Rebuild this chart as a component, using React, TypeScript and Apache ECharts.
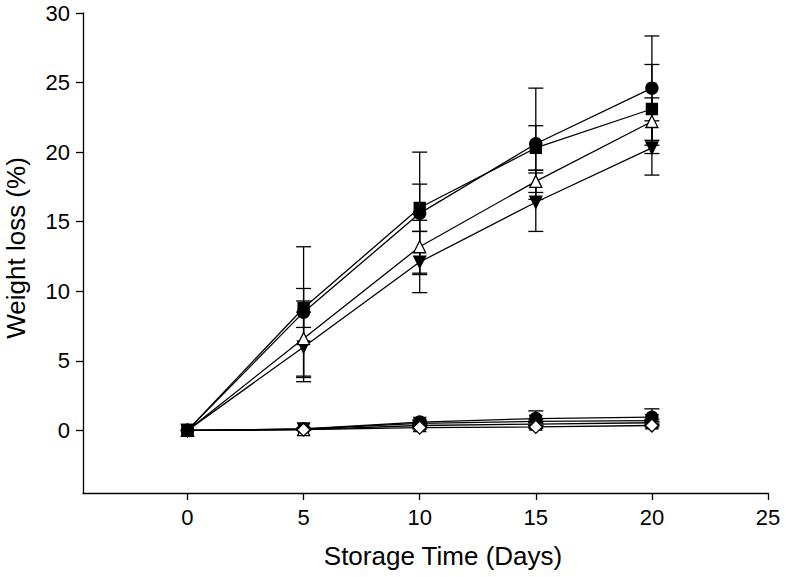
import React, { useEffect, useRef } from "react";
import * as echarts from "echarts";

const days = [0, 5, 10, 15, 20];
const tickValues = [0, 5, 10, 15, 20, 25];
const yTickValues = [0, 5, 10, 15, 20, 25, 30];

// Treated groups
const circleVals = [0, 8.5, 15.6, 20.6, 24.6];
const circleErr = [0, 4.7, 4.4, 4.0, 3.75];
const squareVals = [0, 8.8, 16.0, 20.3, 23.1];
const squareErr = [0, 1.4, 1.7, 1.6, 3.2];
const triVals = [0, 6.6, 13.2, 17.9, 22.2];
const triErr = [0, 2.7, 1.9, 0.8, 1.7];
const invVals = [0, 6.0, 12.1, 16.4, 20.3];
const invErr = [0, 2.5, 2.2, 2.1, 1.95];

// Control groups
const ctrlCircleVals = [0, 0.1, 0.6, 0.85, 0.95];
const ctrlCircleErr = [0, 0.05, 0.15, 0.55, 0.6];
const ctrlInvVals = [0, 0.1, 0.5, 0.65, 0.7];
const ctrlInvErr = [0, 0.05, 0.1, 0.1, 0.1];
const ctrlTriVals = [0, 0.05, 0.35, 0.45, 0.55];
const ctrlTriErr = [0, 0.05, 0.1, 0.1, 0.1];
const ctrlDiaVals = [0, 0.05, 0.2, 0.25, 0.35];
const ctrlDiaErr = [0, 0.05, 0.1, 0.1, 0.1];

const FONT = "'Liberation Sans', Arial, Helvetica, sans-serif";
const LW = 1.3;

type Spec = {
  name: string;
  vals: number[];
  err: number[];
  symbol: string;
  size: number;
  rotate?: number;
  filled: boolean;
};

const specs: Spec[] = [
  { name: "ctrl-circle", vals: ctrlCircleVals, err: ctrlCircleErr, symbol: "circle", size: 12, filled: true },
  { name: "ctrl-inv", vals: ctrlInvVals, err: ctrlInvErr, symbol: "triangle", size: 12, rotate: 180, filled: true },
  { name: "ctrl-tri", vals: ctrlTriVals, err: ctrlTriErr, symbol: "triangle", size: 12, filled: false },
  { name: "ctrl-dia", vals: ctrlDiaVals, err: ctrlDiaErr, symbol: "diamond", size: 13, filled: false },
  { name: "inv", vals: invVals, err: invErr, symbol: "triangle", size: 12, rotate: 180, filled: true },
  { name: "tri", vals: triVals, err: triErr, symbol: "triangle", size: 12, filled: false },
  { name: "square", vals: squareVals, err: squareErr, symbol: "rect", size: 11, filled: true },
  { name: "circle", vals: circleVals, err: circleErr, symbol: "circle", size: 12, filled: true },
];

function errorSeries(s: Spec) {
  const data = days
    .map((d, i) => [d, s.vals[i] - s.err[i], s.vals[i] + s.err[i], s.err[i]])
    .filter((r) => r[3] > 0);
  return {
    type: "custom",
    name: s.name + "-err",
    data,
    z: 1,
    encode: { x: 0, y: [1, 2] },
    renderItem: (_params: any, api: any) => {
      const x = api.value(0);
      const lo = api.value(1);
      const hi = api.value(2);
      const p1 = api.coord([x, hi]);
      const p2 = api.coord([x, lo]);
      const w = 7.5;
      const style = { stroke: "#000", lineWidth: LW };
      return {
        type: "group",
        children: [
          { type: "line", shape: { x1: p1[0], y1: p1[1], x2: p2[0], y2: p2[1] }, style },
          { type: "line", shape: { x1: p1[0] - w, y1: p1[1], x2: p1[0] + w, y2: p1[1] }, style },
          { type: "line", shape: { x1: p2[0] - w, y1: p2[1], x2: p2[0] + w, y2: p2[1] }, style },
        ],
      };
    },
  };
}

function lineSeries(s: Spec) {
  return {
    type: "line",
    name: s.name,
    data: days.map((d, i) => [d, s.vals[i]]),
    z: 3,
    symbol: s.symbol,
    symbolSize: s.size,
    symbolRotate: s.rotate || 0,
    showAllSymbol: true,
    lineStyle: { color: "#000", width: LW },
    itemStyle: {
      color: s.filled ? "#000" : "#fff",
      borderColor: "#000",
      borderWidth: LW,
    },
    emphasis: { disabled: true },
  };
}

export default function App() {
  const ref = useRef<HTMLDivElement>(null);
  useEffect(() => {
    if (!ref.current) return;
    const chart = echarts.init(ref.current, undefined, { renderer: "svg" });
    const axisLine = { show: true, onZero: false, lineStyle: { color: "#000", width: LW } };
    chart.setOption({
      animation: false,
      backgroundColor: "#fff",
      grid: { left: 83, right: 18, top: 13, bottom: 84, containLabel: false, outerBoundsMode: "none" },
      xAxis: {
        type: "value",
        min: -4.5,
        max: 25,
        axisLine,
        axisTick: { show: true, length: 7, customValues: tickValues, lineStyle: { color: "#000", width: LW } },
        axisLabel: { customValues: tickValues, fontSize: 22, color: "#000", fontFamily: FONT, margin: 13 },
        splitLine: { show: false },
      },
      yAxis: {
        type: "value",
        min: -4.5,
        max: 30,
        axisLine,
        axisTick: { show: true, length: 7, customValues: yTickValues, lineStyle: { color: "#000", width: LW } },
        axisLabel: { customValues: yTickValues, fontSize: 22, color: "#000", fontFamily: FONT, margin: 13 },
        splitLine: { show: false },
      },
      graphic: [
        {
          type: "text",
          x: 443,
          y: 556,
          style: {
            text: "Storage Time (Days)",
            fontSize: 26,
            fontFamily: FONT,
            fill: "#000",
            align: "center",
            verticalAlign: "middle",
          },
        },
        {
          type: "text",
          x: 16,
          y: 248,
          rotation: Math.PI / 2,
          style: {
            text: "Weight loss (%)",
            fontSize: 26,
            fontFamily: FONT,
            fill: "#000",
            align: "center",
            verticalAlign: "middle",
          },
        },
      ],
      series: [...specs.map(errorSeries), ...specs.map(lineSeries)],
    });
    return () => chart.dispose();
  }, []);
  return <div ref={ref} style={{ width: 786, height: 577, position: "absolute", left: 0, top: 0 }} />;
}
